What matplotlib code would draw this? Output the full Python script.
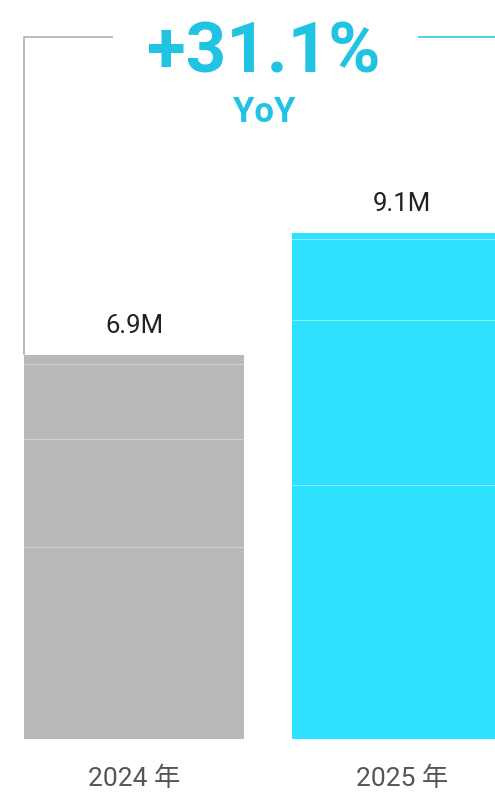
import numpy as np
import matplotlib.pyplot as plt

# yearly totals, split into stacked segments (millions)
years = ['2024 年', '2025 年']
segments_2024 = [3.46, 1.94, 1.34, 0.16]
segments_2025 = [4.57, 2.96, 1.46, 0.11]
total_labels = ['6.9M', '9.1M']
growth_label = '+31.1%'
growth_sub = 'YoY'

bar_colors = ['#b9b9b9', '#2ee1ff']
split_colors = ['#d2d2d2', '#88efff']
accent = '#20c4e2'
fonts = ['Roboto', 'Noto Sans CJK SC', 'DejaVu Sans']

fig = plt.figure(figsize=(4.95, 7.95), dpi=100)
ax = fig.add_axes([0, 0, 1, 1])
ax.set_xlim(-0.5, 1.347)
ax.set_ylim(-1.0, 13.29)
ax.axis('off')

x = np.arange(len(years))
bar_wd = 0.82
stacks = [segments_2024, segments_2025]

for i, segs in enumerate(stacks):
    bottoms = np.concatenate([[0], np.cumsum(segs)[:-1]])
    ax.bar(np.full(len(segs), x[i]), segs, bottom=bottoms, width=bar_wd,
           color=bar_colors[i], linewidth=0)
    # thin divider between segments
    ax.hlines(np.cumsum(segs)[:-1], x[i] - bar_wd / 2, x[i] + bar_wd / 2,
              colors=split_colors[i], linewidth=0.8)
    total = float(np.sum(segs))
    ax.annotate(total_labels[i], (x[i], total), xytext=(0, 16),
                textcoords='offset points', ha='center', va='baseline',
                fontsize=18.5, color='#222222', family=fonts)
    ax.text(x[i], 0.011, years[i], transform=ax.get_xaxis_transform(),
            ha='center', va='baseline', fontsize=19, color='#555555',
            family=fonts)

# bracket joining the two bar tops
totals = [float(np.sum(s)) for s in stacks]
level = 12.63
left_edge = x[0] - bar_wd / 2
right_edge = x[1] + bar_wd / 2
ax.plot([left_edge, left_edge, -0.078], [totals[0], level, level],
        color='#aaaaaa', linewidth=1.1, solid_capstyle='butt')
ax.plot([1.06, right_edge, right_edge], [level, level, totals[1]],
        color=accent, linewidth=1.1, solid_capstyle='butt')

ax.text(0.533, 0.9094, growth_label, transform=ax.transAxes, ha='center',
        va='baseline', fontsize=51, fontweight='bold', color=accent,
        family=fonts)
ax.text(0.533, 0.8465, growth_sub, transform=ax.transAxes, ha='center',
        va='baseline', fontsize=25, fontweight='semibold', color=accent,
        family=fonts)

fig.savefig('out.png', dpi=100)
